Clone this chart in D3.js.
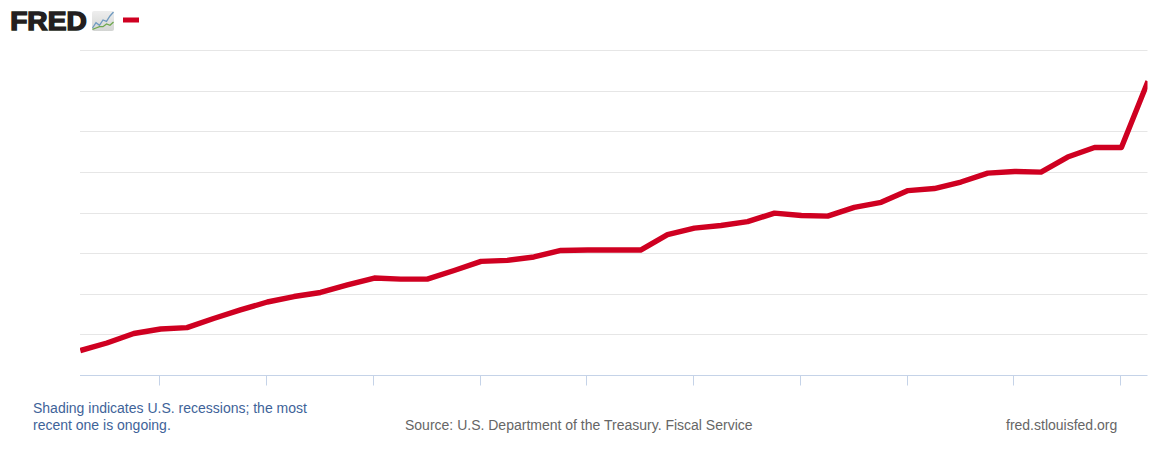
<!DOCTYPE html>
<html>
<head>
<meta charset="utf-8">
<script src="https://cdn.jsdelivr.net/npm/d3@7"></script>
<style>
html,body{margin:0;padding:0;background:#fff;}
svg{display:block;}
text{font-family:"Liberation Sans",Arial,sans-serif;}
</style>
</head>
<body>
<svg id="c" width="1168" height="450"></svg>
<script>
const startDate = "2010-04-01";
const endDate = "2020-04-01";
const values = [13.23,13.60,14.07,14.29,14.36,14.81,15.23,15.62,15.89,16.09,16.46,16.80,16.75,16.75,17.17,17.62,17.67,17.84,18.16,18.18,18.18,18.18,18.94,19.26,19.39,19.58,20.00,19.88,19.85,20.28,20.53,21.11,21.21,21.53,21.97,22.05,22.02,22.76,23.23,23.23,26.49];
const yTicks = [12,14,16,18,20,22,24,26,28];
const xTickYears = [2011,2012,2013,2014,2015,2016,2017,2018,2019,2020];
const noteLines = ["Shading indicates U.S. recessions; the most","recent one is ongoing."];
const sourceText = "Source: U.S. Department of the Treasury. Fiscal Service";
const siteText = "fred.stlouisfed.org";
const logoText = "FRED";
const logoUpper = [0,4,2,6,5,9,12];
const logoLower = [-1,0,1,1,3,2,4.5];

const svg = d3.select("#c");
const dates = values.map((_, i) => d3.utcMonth.offset(new Date(startDate), i * 3));
const x = d3.scaleUtc().domain([new Date(startDate), new Date(endDate)]).range([80.3, 1148]);
const y = d3.scaleLinear().domain([12, 28]).range([375.5, 50.7]);

svg.append("defs").append("clipPath").attr("id","plot")
  .append("rect").attr("x",80).attr("y",40).attr("width",1067.5).attr("height",340);

// grid
svg.append("g").selectAll("line").data(yTicks.slice(1)).join("line")
  .attr("x1",80).attr("x2",1147.5)
  .attr("y1",d=>Math.floor(y(d))+0.5).attr("y2",d=>Math.floor(y(d))+0.5)
  .attr("stroke","#e6e6e6").attr("stroke-width",1);

// x axis
const axis = d3.axisBottom(x)
  .tickValues(xTickYears.map(v=>new Date(Date.UTC(v,0,1))))
  .tickSize(10).tickFormat("").offset(0);
const ax = svg.append("g").attr("transform","translate(0,375.5)").call(axis);
ax.select(".domain").attr("d","M80,0H1147.5").attr("stroke","#c5d3e8").attr("stroke-width",1);
ax.selectAll(".tick").attr("transform",d=>`translate(${Math.floor(x(d)-1)+0.5},0)`);
ax.selectAll(".tick line").attr("stroke","#c5d3e8").attr("stroke-width",1);

// line
svg.append("path").attr("clip-path","url(#plot)")
  .attr("d", d3.line().x((d,i)=>x(dates[i])).y(d=>y(d))(values))
  .attr("fill","none").attr("stroke","#cf0021").attr("stroke-width",5.4)
  .attr("stroke-linejoin","round");

// logo
svg.append("text").text(logoText).attr("x",10.2).attr("y",29.6)
  .attr("font-size",25).attr("font-weight",700).attr("fill","#231f20")
  .attr("stroke","#231f20").attr("stroke-width",1.4)
  .attr("textLength",76.5).attr("lengthAdjust","spacingAndGlyphs");
const grad = svg.select("defs").append("linearGradient").attr("id","ic")
  .attr("x1",0).attr("y1",0).attr("x2",0).attr("y2",1);
grad.append("stop").attr("offset",0).attr("stop-color","#eeeeee");
grad.append("stop").attr("offset",1).attr("stop-color","#d3d5d3");
svg.append("rect").attr("x",92).attr("y",11).attr("width",22).attr("height",20).attr("rx",2).attr("fill","url(#ic)");
const lx = d3.scaleLinear().domain([0,6]).range([92.5,113.5]);
const ly = d3.scaleLinear().domain([0,12]).range([28,12]);
const logoLine = d3.line().x((d,i)=>lx(i)).y(d=>ly(d));
svg.append("path").attr("d",logoLine(logoUpper)).attr("fill","none").attr("stroke","#6f9ac0").attr("stroke-width",1.3);
svg.append("path").attr("d",logoLine(logoLower)).attr("fill","none").attr("stroke","#6fa84f").attr("stroke-width",1.3);

// legend key
svg.append("rect").attr("x",123).attr("y",17.5).attr("width",16).attr("height",5).attr("fill","#cf0021");

// footer
svg.append("g").selectAll("text").data(noteLines).join("text")
  .attr("x",33).attr("y",(d,i)=>413+i*17).attr("font-size",14).attr("fill","#3e6399").text(d=>d);
svg.append("text").attr("x",405).attr("y",430).attr("font-size",14).attr("fill","#666").text(sourceText);
svg.append("text").attr("x",1006).attr("y",430).attr("font-size",14).attr("fill","#666").text(siteText);
</script>
</body>
</html>
